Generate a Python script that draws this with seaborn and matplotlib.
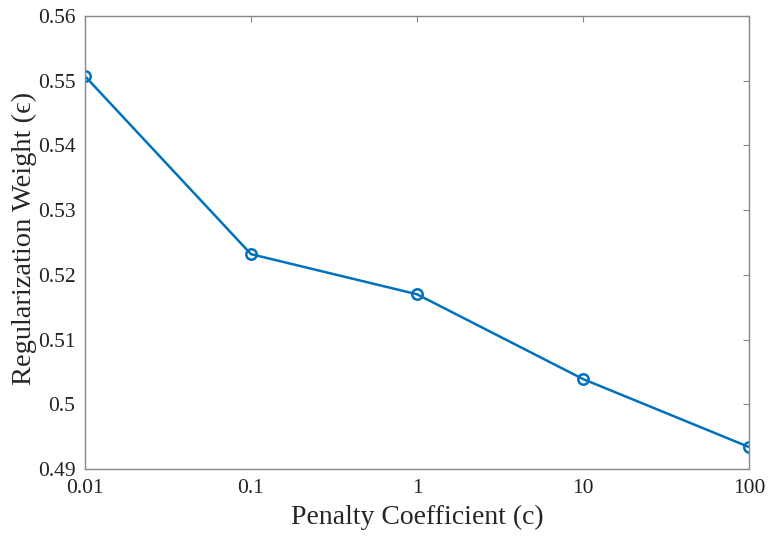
import matplotlib
matplotlib.use("Agg")
import matplotlib.pyplot as plt
import seaborn as sns
import pandas as pd
from matplotlib.ticker import FixedLocator, FixedFormatter, NullLocator

penalty = [0.01, 0.1, 1, 10, 100]
weight = [0.5507, 0.5232, 0.5170, 0.5039, 0.4934]
xticks = [0.01, 0.1, 1, 10, 100]
xtick_labels = ["0.01", "0.1", "1", "10", "100"]
yticks = [0.49, 0.5, 0.51, 0.52, 0.53, 0.54, 0.55, 0.56]
ytick_labels = ["0.49", "0.5", "0.51", "0.52", "0.53", "0.54", "0.55", "0.56"]

sns.set_style("white")
plt.rcParams["font.family"] = ["Liberation Serif", "DejaVu Serif"]

df = pd.DataFrame({"c": penalty, "w": weight})

fig = plt.figure(figsize=(7.69, 5.37), dpi=100)
ax = fig.add_axes([85/769, 1 - 469/537, (749-85)/769, (469-16)/537])
sns.lineplot(data=df, x="c", y="w", ax=ax, color="#0072BD", linewidth=1.8,
             marker="o", markersize=7.5, markerfacecolor="none",
             markeredgecolor="#0072BD", markeredgewidth=1.8)
ax.set_xscale("log")
ax.set_xlim(0.01, 100)
ax.set_ylim(0.49, 0.56)
ax.xaxis.set_major_locator(FixedLocator(xticks))
ax.xaxis.set_major_formatter(FixedFormatter(xtick_labels))
ax.xaxis.set_minor_locator(NullLocator())
ax.yaxis.set_major_locator(FixedLocator(yticks))
ax.yaxis.set_major_formatter(FixedFormatter(ytick_labels))
ax.tick_params(axis="both", labelsize=15.5, length=4, width=0.8, direction="in",
               color="#888888", labelcolor="#222222", pad=7,
               top=True, right=True)
for s in ax.spines.values():
    s.set_color("#888888")
    s.set_linewidth(1.0)
ax.set_xlabel("Penalty Coefficient (c)", fontsize=20, labelpad=5)
ax.set_ylabel("Regularization Weight (\u03f5)", fontsize=20.5)
ax.yaxis.set_label_coords((37 - 85) / 664, 0.51)
fig.savefig("out.png", dpi=100)
